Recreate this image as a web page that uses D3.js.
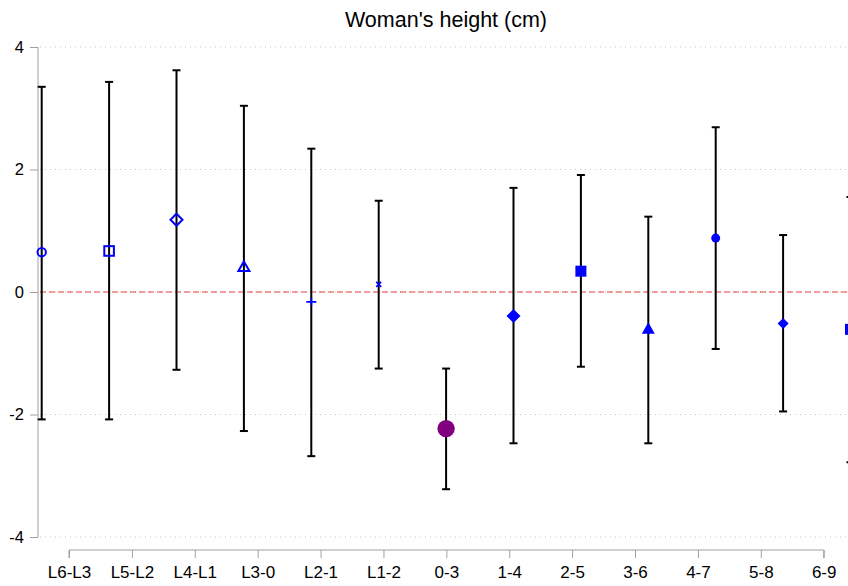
<!DOCTYPE html>
<html>
<head>
<meta charset="utf-8">
<script src="https://cdn.jsdelivr.net/npm/d3@7/dist/d3.min.js"></script>
<style>
  body { margin: 0; background: #fff; }
  svg { display: block; font-family: "Liberation Sans", Arial, sans-serif; }
</style>
</head>
<body>
<svg id="chart" width="848" height="586"></svg>
<script>
const categories = ['L6-L3', 'L5-L2', 'L4-L1', 'L3-0', 'L2-1', 'L1-2', '0-3', '1-4', '2-5', '3-6', '4-7', '5-8', '6-9'];
const estimates = [0.65, 0.67, 1.18, 0.41, -0.16, 0.125, -2.23, -0.39, 0.34, -0.60, 0.88, -0.515, -0.61];
const upperCI = [3.35, 3.43, 3.62, 3.04, 2.34, 1.49, -1.25, 1.70, 1.91, 1.23, 2.69, 0.93, 1.55];
const lowerCI = [-2.08, -2.08, -1.27, -2.27, -2.68, -1.25, -3.22, -2.47, -1.22, -2.47, -0.93, -1.95, -2.78];
const markerTypes = ['circleO', 'squareO', 'diamondO', 'triangleO', 'plus', 'x', 'circleBig', 'diamond', 'square', 'triangle', 'circle', 'diamondSmall', 'square'];
const yTicks = [-4, -2, 0, 2, 4];

const svg = d3.select('#chart');
const width = 848;
const height = 586;

const y = d3.scaleLinear().domain([-4, 4]).range([537, 47]);
// points and axis labels sit on slightly different spacings in the original
const xData = d3.scalePoint().domain(categories).range([41.7, 850.5]);
const xAxis = d3.scalePoint().domain(categories).range([69, 823.7]);

const plotLeft = 38;

// title
svg.append('text')
    .attr('x', 446)
    .attr('y', 27)
    .attr('text-anchor', 'middle')
    .attr('font-size', '21.5px')
    .attr('fill', '#000')
    .text("Woman's height (cm)");

// grid lines
svg.selectAll('line.grid')
    .data(yTicks)
    .enter()
    .append('line')
    .attr('class', 'grid')
    .attr('x1', plotLeft + 2)
    .attr('x2', width)
    .attr('y1', d => y(d))
    .attr('y2', d => y(d))
    .attr('stroke', '#c8c8c8')
    .attr('stroke-width', 1)
    .attr('stroke-dasharray', '1,4');

// zero reference line
svg.append('line')
    .attr('x1', plotLeft + 2)
    .attr('x2', width)
    .attr('y1', y(0))
    .attr('y2', y(0))
    .attr('stroke', '#e8403c')
    .attr('stroke-width', 1)
    .attr('stroke-dasharray', '6,3');

// y axis
const yAxisG = svg.append('g')
    .attr('transform', `translate(${plotLeft},0)`)
    .call(d3.axisLeft(y).tickValues(yTicks).tickSize(8).tickPadding(6).tickFormat(d => String(d)));
yAxisG.select('.domain').attr('stroke', '#a0a0a0').attr('d', `M0,${y(4)}V${y(-4)}`);
yAxisG.selectAll('.tick line').attr('stroke', '#a0a0a0');
yAxisG.selectAll('.tick text')
    .attr('font-size', '16.5px')
    .attr('fill', '#000')
    .attr('font-family', '"Liberation Sans", Arial, sans-serif');

// x axis
const xAxisG = svg.append('g')
    .attr('transform', 'translate(0,550)')
    .call(d3.axisBottom(xAxis).tickSize(8).tickPadding(8));
xAxisG.select('.domain').attr('stroke', '#a0a0a0')
    .attr('d', `M${xAxis(categories[0])},8V0H${xAxis(categories[categories.length - 1])}V8`);
xAxisG.selectAll('.tick line').attr('stroke', '#a0a0a0');
xAxisG.selectAll('.tick text')
    .attr('font-size', '17px')
    .attr('fill', '#000')
    .attr('font-family', '"Liberation Sans", Arial, sans-serif');

const rows = categories.map((c, i) => ({
    cat: c,
    est: estimates[i],
    hi: upperCI[i],
    lo: lowerCI[i],
    marker: markerTypes[i]
}));

const capW = 4;
const bars = svg.append('g');

bars.selectAll('line.whisker')
    .data(rows)
    .enter()
    .append('line')
    .attr('x1', d => xData(d.cat))
    .attr('x2', d => xData(d.cat))
    .attr('y1', d => y(d.hi))
    .attr('y2', d => y(d.lo))
    .attr('stroke', '#000')
    .attr('stroke-width', 2);

bars.selectAll('line.capHi')
    .data(rows)
    .enter()
    .append('line')
    .attr('x1', d => xData(d.cat) - capW)
    .attr('x2', d => xData(d.cat) + capW)
    .attr('y1', d => y(d.hi))
    .attr('y2', d => y(d.hi))
    .attr('stroke', '#000')
    .attr('stroke-width', 2);

bars.selectAll('line.capLo')
    .data(rows)
    .enter()
    .append('line')
    .attr('x1', d => xData(d.cat) - capW)
    .attr('x2', d => xData(d.cat) + capW)
    .attr('y1', d => y(d.lo))
    .attr('y2', d => y(d.lo))
    .attr('stroke', '#000')
    .attr('stroke-width', 2);

const blue = '#0000ff';
const purple = '#800080';

function drawMarker(g, d) {
    const cx = xData(d.cat);
    const cy = y(d.est);
    const m = g.append('g').attr('transform', `translate(${cx},${cy})`);
    switch (d.marker) {
        case 'circleO':
            m.append('circle').attr('r', 4.2).attr('fill', 'none').attr('stroke', blue).attr('stroke-width', 2);
            break;
        case 'squareO':
            m.append('rect').attr('x', -4.8).attr('y', -4.8).attr('width', 9.6).attr('height', 9.6)
                .attr('fill', 'none').attr('stroke', blue).attr('stroke-width', 2);
            break;
        case 'diamondO':
            m.append('path').attr('d', 'M0,-6L6,0L0,6L-6,0Z')
                .attr('fill', 'none').attr('stroke', blue).attr('stroke-width', 2);
            break;
        case 'triangleO':
            m.append('path').attr('d', 'M0,-5.5L5.5,4.2L-5.5,4.2Z')
                .attr('fill', 'none').attr('stroke', blue).attr('stroke-width', 2);
            break;
        case 'plus':
            m.append('path').attr('d', 'M-5,0H5M0,-4V4').attr('stroke', blue).attr('stroke-width', 1.8);
            break;
        case 'x':
            m.append('path').attr('d', 'M-2.5,-2.5L2.5,2.5M2.5,-2.5L-2.5,2.5').attr('stroke', blue).attr('stroke-width', 1.6);
            break;
        case 'circleBig':
            m.append('circle').attr('r', 8.7).attr('fill', purple);
            break;
        case 'diamond':
            m.append('path').attr('d', 'M0,-7L7,0L0,7L-7,0Z').attr('fill', blue);
            break;
        case 'square':
            m.append('rect').attr('x', -5.5).attr('y', -5.5).attr('width', 11).attr('height', 11).attr('fill', blue);
            break;
        case 'triangle':
            m.append('path').attr('d', 'M0,-6.5L6.5,5L-6.5,5Z').attr('fill', blue);
            break;
        case 'circle':
            m.append('circle').attr('r', 4.5).attr('fill', blue);
            break;
        case 'diamondSmall':
            m.append('path').attr('d', 'M0,-5.5L5.5,0L0,5.5L-5.5,0Z').attr('fill', blue);
            break;
    }
}

const markers = svg.append('g');
rows.forEach(d => drawMarker(markers, d));
</script>
</body>
</html>
